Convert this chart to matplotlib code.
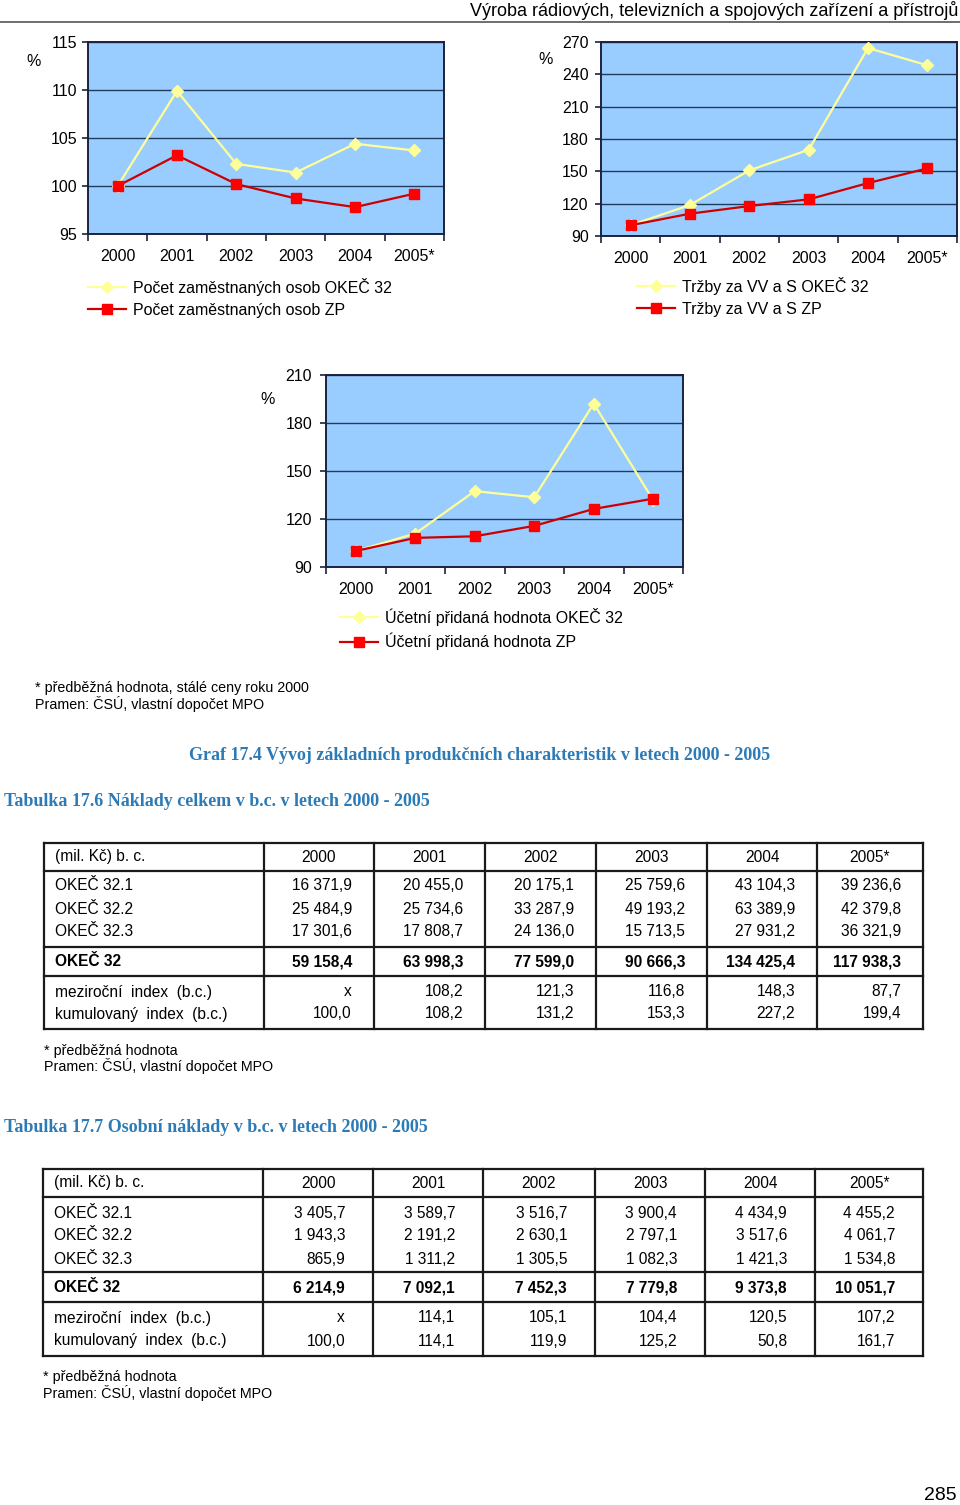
import numpy as np
import matplotlib
matplotlib.use("Agg")
import matplotlib.pyplot as plt

plt.rcParams['font.family'] = ['Liberation Sans', 'DejaVu Sans']

W, H = 960, 1505

# chart data (indices, 2000 = 100)
years = ["2000", "2001", "2002", "2003", "2004", "2005*"]
zam_okec = [100.0, 109.9, 102.3, 101.4, 104.4, 103.7]
zam_zp = [100.0, 103.2, 100.2, 98.7, 97.8, 99.2]
trz_okec = [100.0, 118.8, 150.9, 170.0, 264.4, 248.4]
trz_zp = [100.0, 110.7, 117.8, 124.0, 139.1, 152.7]
pch_okec = [100.0, 110.9, 137.4, 133.6, 192.1, 131.7]
pch_zp = [100.0, 108.2, 109.2, 115.7, 126.3, 132.7]

# table 17.6
t_rows = ["OKEČ 32.1", "OKEČ 32.2", "OKEČ 32.3", "OKEČ 32",
          "meziroční  index  (b.c.)", "kumulovaný  index  (b.c.)"]
n_321 = [16371.9, 20455.0, 20175.1, 25759.6, 43104.3, 39236.6]
n_322 = [25484.9, 25734.6, 33287.9, 49193.2, 63389.9, 42379.8]
n_323 = [17301.6, 17808.7, 24136.0, 15713.5, 27931.2, 36321.9]
n_32 = [59158.4, 63998.3, 77599.0, 90666.3, 134425.4, 117938.3]
n_mezi = [None, 108.2, 121.3, 116.8, 148.3, 87.7]
n_kum = [100.0, 108.2, 131.2, 153.3, 227.2, 199.4]

# table 17.7
o_321 = [3405.7, 3589.7, 3516.7, 3900.4, 4434.9, 4455.2]
o_322 = [1943.3, 2191.2, 2630.1, 2797.1, 3517.6, 4061.7]
o_323 = [865.9, 1311.2, 1305.5, 1082.3, 1421.3, 1534.8]
o_32 = [6214.9, 7092.1, 7452.3, 7779.8, 9373.8, 10051.7]
o_mezi = [None, 114.1, 105.1, 104.4, 120.5, 107.2]
o_kum = [100.0, 114.1, 119.9, 125.2, 50.8, 161.7]

fig = plt.figure(figsize=(W / 100, H / 100), dpi=100)

page = fig.add_axes([0, 0, 1, 1])
page.set_xlim(0, W)
page.set_ylim(H, 0)
page.axis('off')


def px_axes(l, t, r, b):
    return fig.add_axes([l / W, 1 - b / H, (r - l) / W, (b - t) / H])


def chart(box, yticks, okec, zp, labels, pct, ypad, leg):
    ax = px_axes(*box)
    ax.set_facecolor('#99CCFF')
    x = np.arange(len(years))
    l1, = ax.plot(x, okec, color='#FFFF99', lw=1.6, marker='D', ms=6,
                  mfc='#FFFF99', mec='#FFFF99', label=labels[0], zorder=3)
    l2, = ax.plot(x, zp, color='#CC0000', lw=1.6, marker='s', ms=7.5,
                  mfc='#FF0000', mec='#FF0000', label=labels[1], zorder=4)
    ax.set_xlim(-0.5, len(years) - 0.5)
    ax.set_ylim(yticks[0], yticks[-1])
    ax.set_yticks(yticks)
    ax.grid(axis='y', color='#223a5c', lw=1)
    ax.set_axisbelow(True)
    ax.set_xticks(x)
    ax.set_xticklabels(years)
    ax.set_xticks(np.arange(-0.5, len(years)), minor=True)
    ax.tick_params(axis='x', which='major', length=0, pad=11, labelsize=11.5)
    ax.tick_params(axis='x', which='minor', length=5, width=1.2, color='#1a2240')
    ax.tick_params(axis='y', length=4, width=1.2, color='#1a2240', pad=ypad,
                   labelsize=11.5)
    for s in ax.spines.values():
        s.set_color('#1a2240')
        s.set_linewidth(1.4)
    page.text(pct[0], pct[1], "%", fontsize=11.5, ha='center', va='center')
    ax.legend(handles=[l1, l2], loc='upper left',
              bbox_to_anchor=(leg[0] / W, 1 - leg[1] / H),
              bbox_transform=fig.transFigure, frameon=False, fontsize=11.5,
              handlelength=2.4, handletextpad=0.4, labelspacing=0.42,
              borderpad=0, borderaxespad=0, numpoints=1)
    return ax


chart((88, 42, 444, 234), [95, 100, 105, 110, 115], zam_okec, zam_zp,
      ["Počet zaměstnaných osob OKEČ 32", "Počet zaměstnaných osob ZP"],
      (34, 62), 4, (88, 278))
chart((601, 42, 957, 236), [90, 120, 150, 180, 210, 240, 270], trz_okec, trz_zp,
      ["Tržby za VV a S OKEČ 32", "Tržby za VV a S ZP"],
      (546, 60), 5, (637, 277))
chart((326, 375, 683, 567), [90, 120, 150, 180, 210], pch_okec, pch_zp,
      ["Účetní přidaná hodnota OKEČ 32", "Účetní přidaná hodnota ZP"],
      (268, 399), 6, (340, 608))

# header
page.text(958, 10, "Výroba rádiových, televizních a spojových zařízení a přístrojů",
          fontsize=13, ha='right', va='center')
page.plot([0, W], [22, 22], color='#555555', lw=1.2)

page.text(35, 688, "* předběžná hodnota, stálé ceny roku 2000", fontsize=10.3, va='center')
page.text(35, 704, "Pramen: ČSÚ, vlastní dopočet MPO", fontsize=10.3, va='center')

title_c = '#2C7BB6'
serif = ['Liberation Serif', 'DejaVu Serif']
page.text(480, 755, "Graf 17.4 Vývoj základních produkčních charakteristik v letech 2000 - 2005",
          fontsize=13, fontweight='bold', family=serif, color=title_c,
          ha='center', va='center')
page.text(4, 802, "Tabulka 17.6 Náklady celkem v b.c. v letech 2000 - 2005",
          fontsize=13, fontweight='bold', family=serif, color=title_c, va='center')
page.text(4, 1128, "Tabulka 17.7 Osobní náklady v b.c. v letech 2000 - 2005",
          fontsize=13, fontweight='bold', family=serif, color=title_c, va='center')


def fmt(v):
    if v is None:
        return "x"
    return f"{v:,.1f}".replace(",", " ").replace(".", ",")


def table(cols, hlines, rows_y, series, roff):
    lc = '#1a1a1a'
    for y in hlines:
        page.plot([cols[0], cols[-1]], [y, y], color=lc, lw=1.6, solid_capstyle='projecting')
    for x in cols:
        page.plot([x, x], [hlines[0], hlines[-1]], color=lc, lw=1.6, solid_capstyle='projecting')
    page.text(cols[0] + 11, rows_y[0], "(mil. Kč) b. c.", fontsize=11.2, va='center')
    for j, yr in enumerate(years):
        page.text((cols[j + 1] + cols[j + 2]) / 2, rows_y[0], yr, fontsize=11.2,
                  ha='center', va='center')
    for i, (name, vals) in enumerate(zip(t_rows, series)):
        fw = 'bold' if i == 3 else 'normal'
        y = rows_y[i + 1]
        page.text(cols[0] + 11, y, name, fontsize=11.2, va='center', fontweight=fw)
        for j, v in enumerate(vals):
            page.text(cols[j + 2] - roff, y, fmt(v), fontsize=11.2, ha='right',
                      va='center', fontweight=fw)


table([44, 264, 374, 485, 596, 707, 817, 923], [843, 871, 947, 976, 1029],
      [857, 886, 909, 932, 962, 992, 1014],
      [n_321, n_322, n_323, n_32, n_mezi, n_kum], 22)
page.text(44, 1051, "* předběžná hodnota", fontsize=10.3, va='center')
page.text(44, 1066, "Pramen: ČSÚ, vlastní dopočet MPO", fontsize=10.3, va='center')

table([43, 263, 373, 483, 595, 705, 815, 923], [1169, 1197, 1272, 1302, 1356],
      [1183, 1213, 1236, 1259, 1288, 1318, 1341],
      [o_321, o_322, o_323, o_32, o_mezi, o_kum], 28)
page.text(43, 1377, "* předběžná hodnota", fontsize=10.3, va='center')
page.text(43, 1393, "Pramen: ČSÚ, vlastní dopočet MPO", fontsize=10.3, va='center')

page.text(940, 1495, "285", fontsize=14, ha='center', va='center')

fig.savefig("out.png", dpi=100)
